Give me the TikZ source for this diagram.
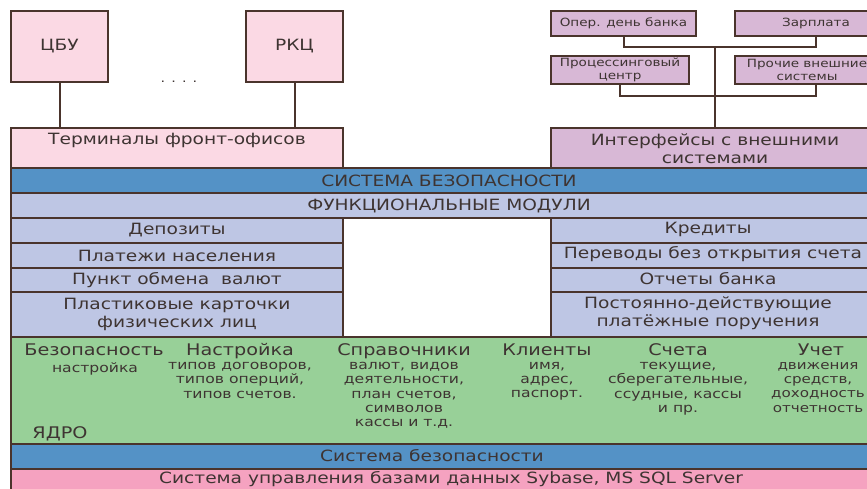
\documentclass[tikz,border=0pt]{standalone}
\usepackage{fontspec}
\setmainfont[FakeStretch=1.2]{DejaVu Sans}
\definecolor{edge}{RGB}{74,52,44}
\definecolor{ink}{RGB}{62,52,50}
\definecolor{pinkl}{RGB}{251,217,228}
\definecolor{lilac}{RGB}{216,184,214}
\definecolor{bandblue}{RGB}{84,146,198}
\definecolor{peri}{RGB}{190,198,228}
\definecolor{green}{RGB}{152,208,152}
\definecolor{pinkd}{RGB}{245,162,192}
\newcommand{\szA}{\fontsize{15.5}{17.5}\selectfont}
\newcommand{\szH}{\fontsize{16}{18}\selectfont}
\newcommand{\szC}{\fontsize{13}{14.3}\selectfont}
\newcommand{\szD}{\fontsize{11.3}{13}\selectfont}
\begin{document}
\begin{tikzpicture}[x=1pt,y=-1pt,
  box/.style={draw=edge, line width=2pt, inner sep=0pt, anchor=north west, text=ink},
  txt/.style={inner sep=0pt, text=ink, align=center},
  link/.style={draw=edge, line width=2pt}]
\clip (0,0) rectangle (867,488);
\fill[white] (0,0) rectangle (867,488);
% top left
\node[box, fill=pinkl, minimum width=97pt, minimum height=71pt, font=\szA] (cbu) at (10,10) {ЦБУ};
\node[box, fill=pinkl, minimum width=97pt, minimum height=71pt, font=\szA] (rkc) at (245,10) {РКЦ};
\node[txt, font=\fontsize{12}{14}\selectfont, anchor=base] (dots) at (179,82) {. . . .};
\node[box, fill=pinkl, minimum width=332pt, minimum height=41pt] (term) at (10,127) {};
\node[txt, font=\szA] (tterm) at (177,140) {Терминалы фронт-офисов};
\draw[link] (cbu.south) -- (cbu.south |- term.north);
\draw[link] (rkc.south) -- (rkc.south |- term.north);
% top right
\node[box, fill=lilac, minimum width=145pt, minimum height=25pt, font=\szD] (oper) at (550,10) {Опер. день банка};
\node[box, fill=lilac, minimum width=162pt, minimum height=25pt, font=\szD] (zarp) at (734,10) {Зарплата};
\node[box, fill=lilac, minimum width=138pt, minimum height=28pt, font=\szD, align=center] (proc) at (550,55) {Процессинговый\\центр};
\node[box, fill=lilac, minimum width=144pt, minimum height=28pt, font=\szD, align=center] (proch) at (734,55) {Прочие внешние\\системы};
\node[box, fill=lilac, minimum width=328pt, minimum height=41pt, font=\szA, align=center] (iface) at (550,127) {Интерфейсы с внешними\\системами};
\coordinate (j1) at (iface.north |- 0,47);
\coordinate (j2) at (iface.north |- 0,96);
\draw[link] (oper.south) |- (j1) -| (zarp.south);
\draw[link] (proc.south) |- (j2) -| (zarp.south |- proch.south);
\draw[link] (iface.north) -- (j1);
% bands
\node[box, fill=bandblue, minimum width=876pt, minimum height=25pt, font=\szA] (sec) at (10,167) {СИСТЕМА БЕЗОПАСНОСТИ};
\node[box, fill=peri, minimum width=876pt, minimum height=25pt, font=\szA] (func) at (10,192) {ФУНКЦИОНАЛЬНЫЕ МОДУЛИ};
% left column
\node[box, fill=peri, minimum width=332pt, minimum height=25pt, font=\szA] (dep) at (10,217) {Депозиты};
\node[box, fill=peri, minimum width=332pt, minimum height=25pt, font=\szA] (plat) at (10,242) {Платежи населения};
\node[box, fill=peri, minimum width=332pt, minimum height=24pt, font=\szA] (punkt) at (10,267) {Пункт обмена\ \ валют};
\node[box, fill=peri, minimum width=332pt, minimum height=45pt, font=\szA, align=center] (plast) at (10,291) {Пластиковые карточки\\физических лиц};
% right column
\node[box, fill=peri, minimum width=336pt, minimum height=25pt] (kred) at (550,217) {};
\node[box, fill=peri, minimum width=336pt, minimum height=25pt] (perev) at (550,242) {};
\node[box, fill=peri, minimum width=336pt, minimum height=24pt] (otch) at (550,267) {};
\node[box, fill=peri, minimum width=336pt, minimum height=45pt] (post) at (550,291) {};
\node[txt, font=\szA] (tkred) at (708,229.5) {Кредиты};
\node[txt, font=\szA] (tperev) at (713,254.5) {Переводы без открытия счета};
\node[txt, font=\szA] (totch) at (708,279) {Отчеты банка};
\node[txt, font=\szA] (tpost) at (708,313) {Постоянно-действующие\\платёжные поручения};
% core
\node[box, fill=green, minimum width=876pt, minimum height=107pt] (core) at (10,336) {};
\node[txt, font=\szH, anchor=base] (h1) at (94,355) {Безопасность};
\node[txt, font=\szC, anchor=north] (s1) at (95,362) {настройка};
\node[txt, font=\szH, anchor=base] (h2) at (240,355) {Настройка};
\node[txt, font=\szC, anchor=north] (s2) at (240,362) {типов договоров,\\типов оперций,\\типов счетов.};
\node[txt, font=\szH, anchor=base] (h3) at (404,355) {Справочники};
\node[txt, font=\szC, anchor=north] (s3) at (404,362) {валют, видов\\деятельности,\\план счетов,\\символов\\кассы и т.д.};
\node[txt, font=\szH, anchor=base] (h4) at (547,355) {Клиенты};
\node[txt, font=\szC, anchor=north] (s4) at (547,362) {имя,\\адрес,\\паспорт.};
\node[txt, font=\szH, anchor=base] (h5) at (678,355) {Счета};
\node[txt, font=\szC, anchor=north] (s5) at (678,362) {текущие,\\сберегательные,\\ссудные, кассы\\и пр.};
\node[txt, font=\szH, anchor=base] (h6) at (821,355) {Учет};
\node[txt, font=\fontsize{12.6}{14.3}\selectfont, anchor=north] (s6) at (818,362) {движения\\средств,\\доходность\\отчетность};
\node[txt, font=\szH, anchor=base] (yadro) at (60,438) {ЯДРО};
% bottom
\node[box, fill=bandblue, minimum width=876pt, minimum height=25pt] (sec2) at (10,443) {};
\node[txt, font=\szA] (tsec2) at (432,456) {Система безопасности};
\node[box, fill=pinkd, minimum width=876pt, minimum height=30pt] (dbms) at (10,468) {};
\node[txt, font=\szA] (tdbms) at (451,479) {Система управления базами данных Sybase, MS SQL Server};
\end{tikzpicture}
\end{document}
